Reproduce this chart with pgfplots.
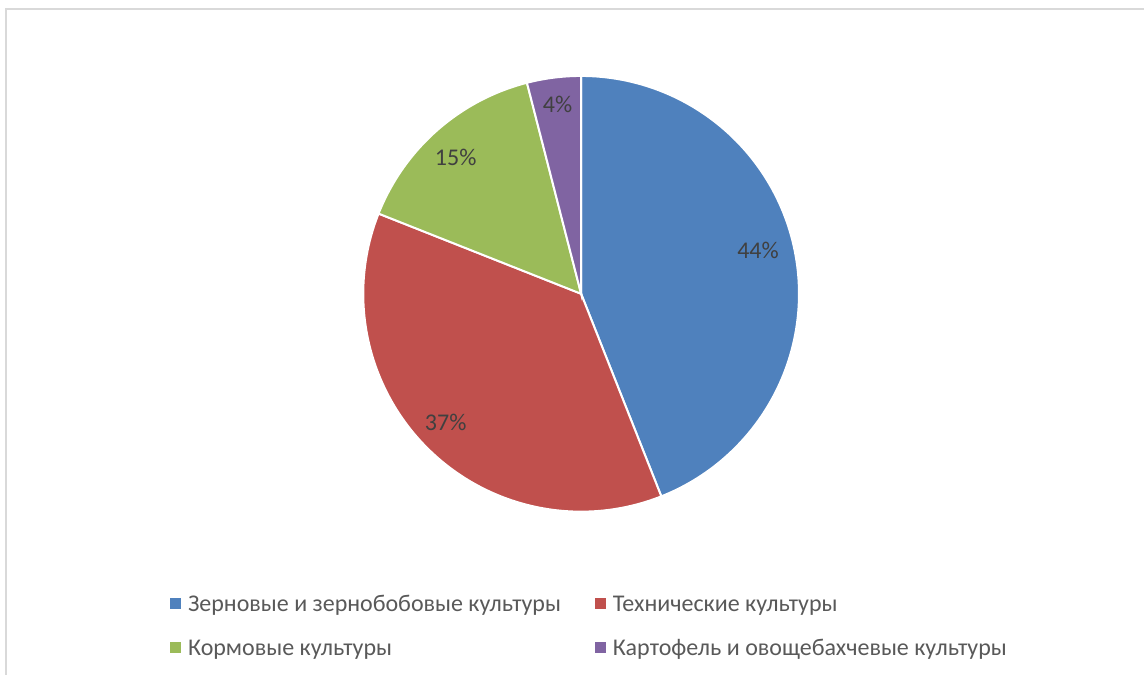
\documentclass[border=0pt]{standalone}
\usepackage{fontspec}
\setmainfont{Carlito}
\usepackage{pgfplots}
\pgfplotsset{compat=1.18}
\definecolor{cblue}{HTML}{4F81BD}
\definecolor{cred}{HTML}{C0504D}
\definecolor{cgreen}{HTML}{9BBB59}
\definecolor{cpurple}{HTML}{8064A2}
\definecolor{lbl}{HTML}{404040}
\definecolor{leg}{HTML}{595959}
\definecolor{frame}{HTML}{D9D9D9}
% center (px coords, y up) and radius
\def\cx{581.5}
\def\cy{381}
\def\R{218}
% #1 cumulative share before slice, #2 share, #3 colour, #4 legend text, #5/#6 label position
\newcommand{\slice}[6]{%
  \addplot[fill=#3, draw=white, line width=2pt, domain={90-3.6*(#1+#2)}:{90-3.6*#1}, samples=120,
    legend image code/.code={\fill[#3] (0bp,3.5bp) rectangle (9bp,12.5bp);}]
    ({\cx+\R*cos(x)},{\cy+\R*sin(x)}) -- (axis cs:\cx,\cy) -- cycle;
  \addlegendentry{#4}
  \node[text=lbl, font=\fontsize{24bp}{28bp}\selectfont] at (axis cs:#5,#6) {#2\%};
}
\begin{document}
\begin{tikzpicture}
\begin{axis}[
  width=1145bp, height=675bp, scale only axis,
  xmin=0, xmax=1145, ymin=0, ymax=675,
  hide axis, clip=false,
  legend columns=2,
  legend style={at={(axis cs:170,80)}, anchor=north west, draw=none, fill=none,
    inner sep=0pt, column sep=0pt, row sep=27bp,
    font=\fontsize{24bp}{28bp}\selectfont, text=leg,
    nodes={inner sep=0pt, anchor=base west}},
  legend cell align=left,
]
\path (rel axis cs:0,0) rectangle (rel axis cs:1,1);
\draw[frame, line width=1.5bp] (axis cs:6,0) -- (axis cs:6,666) -- (axis cs:1145,666);
\slice{0}{44}{cblue}{\makebox[414bp][l]{\hspace*{7bp}Зерновые и зернобобовые культуры}}{758.5}{424.5}
\slice{44}{37}{cred}{\hspace*{7bp}Технические культуры}{446}{252}
\slice{81}{15}{cgreen}{\makebox[414bp][l]{\hspace*{7bp}Кормовые культуры}}{456}{517}
\slice{96}{4}{cpurple}{\hspace*{7bp}Картофель и овощебахчевые культуры}{558}{571}
\end{axis}
\end{tikzpicture}
\end{document}
